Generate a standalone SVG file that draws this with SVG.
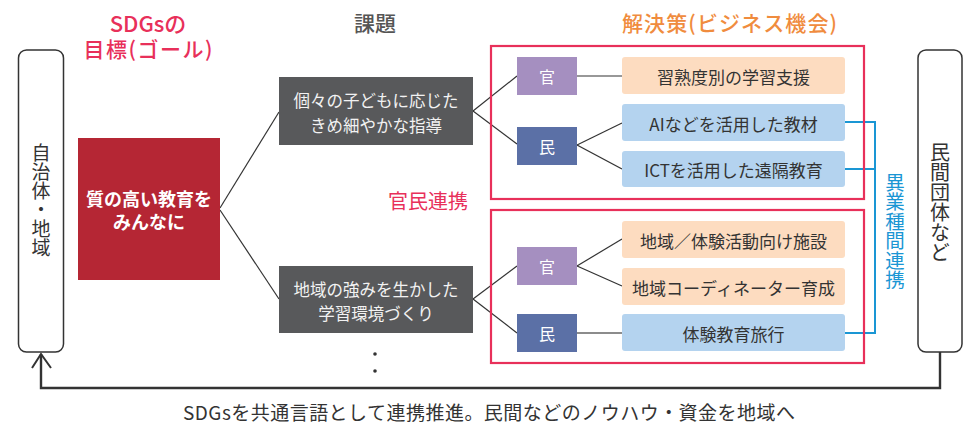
<svg xmlns="http://www.w3.org/2000/svg" width="967" height="423" viewBox="0 0 967 423">
<style>
text{font-family:"Noto Sans CJK JP","Noto Sans",sans-serif;}
.c{text-anchor:middle;dominant-baseline:central;}
.ttl{font-size:21px;font-weight:500;}
.pink{fill:#e8305a;}
.gray{fill:#555;}
.orange{fill:#f08c3e;}
.side{fill:#fff;stroke:#333;stroke-width:1.5;}
.vert{writing-mode:vertical-rl;text-orientation:upright;text-anchor:middle;}
.vt{font-size:19px;fill:#333;}
.dark{fill:#58595b;}
.dt{font-size:16.5px;fill:#f2f2f2;}
.frame{fill:none;stroke:#e8305a;stroke-width:2.2;}
.kan{fill:#a58fc0;}
.min{fill:#5b70a6;}
.kt{font-size:16px;fill:#fff;}
.ob{fill:#fddcc0;}
.bb{fill:#b4d3ef;}
.bt{font-size:17px;fill:#333;}
.ln{stroke:#333;stroke-width:1.2;fill:none;}
.blue{stroke:#1a96d4;stroke-width:2;fill:none;}
</style>

<!-- titles -->
<g id="title-sdgs">
<text class="c ttl pink" x="148" y="22" style="font-size:22px">SDGsの</text>
<text class="c ttl pink" x="148" y="48" textLength="129" lengthAdjust="spacing">目標(ゴール)</text>
</g>
<g id="title-kadai"><text class="c ttl gray" x="375" y="22">課題</text></g>
<g id="title-kaiketsu"><text class="c ttl orange" x="729.5" y="22" textLength="215" lengthAdjust="spacing">解決策(ビジネス機会)</text></g>
<g id="label-kanmin"><text class="c pink" style="font-size:20px" x="428" y="200">官民連携</text></g>

<!-- connectors -->
<g id="connectors">
<path class="ln" d="M220,208 L279,112"/>
<path class="ln" d="M220,210 L279,299"/>
<path class="ln" d="M473,111 L517,76"/>
<path class="ln" d="M473,111 L517,144"/>
<path class="ln" d="M577,76 L622,76"/>
<path class="ln" d="M577,145 L622,123"/>
<path class="ln" d="M577,145 L622,169"/>
<path class="ln" d="M473,299 L517,266"/>
<path class="ln" d="M473,299 L517,333"/>
<path class="ln" d="M577,266 L622,239"/>
<path class="ln" d="M577,266 L622,286"/>
<path d="M577,333 L622,333" stroke="#666" stroke-width="1.5"/>
<path class="blue" d="M845,122 H875 V333 H845 M845,169 H875"/>
<path d="M940,352 V388 H41 V354" fill="none" stroke="#333" stroke-width="2.4"/>
<path d="M32,368 L41,354 L51,368" fill="none" stroke="#333" stroke-width="2"/>
</g>

<!-- side boxes -->
<g id="node-jichitai">
<rect class="side" x="18.5" y="50" width="45" height="302" rx="8"/>
<text class="vert vt" x="41" y="200">自治体・地域</text>
</g>
<g id="node-minkan">
<rect class="side" x="918" y="50" width="44" height="302" rx="8"/>
<text class="vert vt" x="940" y="202" style="font-size:20px">民間団体など</text>
</g>
<g id="label-igyoshu">
<text class="vert" style="font-size:19.5px;fill:#1a96d4" x="895" y="231">異業種間連携</text>
</g>

<!-- goal -->
<g id="node-goal">
<rect x="78" y="138" width="142" height="142" fill="#b52634"/>
<text class="c" style="font-size:18px;font-weight:bold;fill:#fff" x="149" y="198">質の高い教育を</text>
<text class="c" style="font-size:18px;font-weight:bold;fill:#fff" x="149" y="221">みんなに</text>
</g>

<!-- issues -->
<g id="node-issue1">
<rect class="dark" x="279" y="77" width="194" height="68"/>
<text class="c dt" x="376" y="100">個々の子どもに応じた</text>
<text class="c dt" x="376" y="125">きめ細やかな指導</text>
</g>
<g id="node-issue2">
<rect class="dark" x="279" y="266" width="194" height="67"/>
<text class="c dt" x="376" y="289">地域の強みを生かした</text>
<text class="c dt" x="376" y="313">学習環境づくり</text>
</g>
<g id="node-more">
<circle cx="375" cy="354" r="1.8" fill="#333"/>
<circle cx="375" cy="371" r="1.8" fill="#333"/>
</g>

<!-- frames -->
<g id="frame1"><rect class="frame" x="491" y="46" width="373" height="153"/></g>
<g id="frame2"><rect class="frame" x="491" y="210" width="373" height="153"/></g>

<!-- group 1 -->
<g id="node-kan1"><rect class="kan" x="517" y="57" width="60" height="38"/><text class="c kt" x="547" y="76">官</text></g>
<g id="node-min1"><rect class="min" x="517" y="127" width="60" height="38"/><text class="c kt" x="547" y="146">民</text></g>
<g id="node-s1"><rect class="ob" x="622" y="57" width="223" height="37" rx="3"/><text class="c bt" x="733.5" y="76">習熟度別の学習支援</text></g>
<g id="node-s2"><rect class="bb" x="622" y="104" width="223" height="37" rx="3"/><text class="c bt" x="733.5" y="123">AIなどを活用した教材</text></g>
<g id="node-s3"><rect class="bb" x="622" y="151" width="223" height="36" rx="3"/><text class="c bt" x="733.5" y="169">ICTを活用した遠隔教育</text></g>

<!-- group 2 -->
<g id="node-kan2"><rect class="kan" x="517" y="247" width="60" height="38"/><text class="c kt" x="547" y="266">官</text></g>
<g id="node-min2"><rect class="min" x="517" y="314" width="60" height="38"/><text class="c kt" x="547" y="333">民</text></g>
<g id="node-s4"><rect class="ob" x="622" y="221" width="223" height="37" rx="3"/><text class="c bt" x="733.5" y="240">地域／体験活動向け施設</text></g>
<g id="node-s5"><rect class="ob" x="622" y="268" width="223" height="37" rx="3"/><text class="c bt" x="733.5" y="287">地域コーディネーター育成</text></g>
<g id="node-s6"><rect class="bb" x="622" y="314" width="223" height="37" rx="3"/><text class="c bt" x="733.5" y="333">体験教育旅行</text></g>

<g id="caption">
<text class="c" style="font-size:19px;fill:#333" x="489" y="411" textLength="612" lengthAdjust="spacing">SDGsを共通言語として連携推進。民間などのノウハウ・資金を地域へ</text>
</g>
</svg>
